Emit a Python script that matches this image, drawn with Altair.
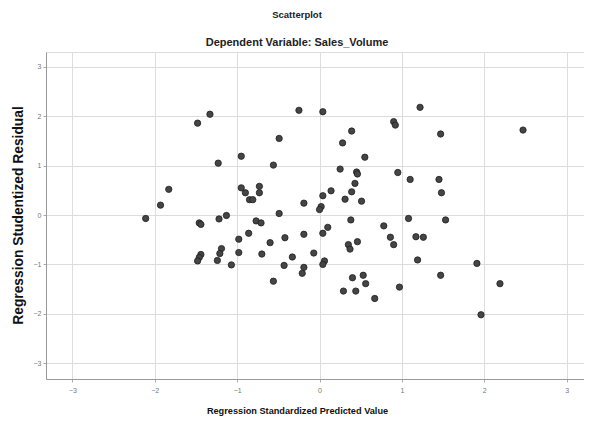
import altair as alt
import pandas as pd

# Regression standardized predicted value (x) and studentized residual (y)
x_vals = [
    -1.33, -1.48, -0.95, -1.23, -1.83, -1.93, -2.11, -0.95, -0.90, -0.73,
    -0.73, -0.85, -0.81, -1.13, -1.22, -1.46, -1.44, -0.77, -0.71, -0.86,
    -0.98, -0.98, -0.70, -1.19, -1.21, -1.24, -1.44, -1.46, -1.48, -1.07,
    -0.25, 0.04, 0.90, 0.92, -0.49, 0.39, 0.28, 0.55, -0.56, 0.25,
    0.45, 0.46, 0.95, 0.43, 0.14, 0.04, 0.39, 0.31, 0.51, -0.19,
    0.02, 0.00, -0.49, 0.38, 0.78, 0.10, 0.04, -0.19, -0.42, -0.60,
    0.86, 0.90, 0.46, 0.35, 0.37, -0.07, -0.33, 0.06, 0.04, -0.43,
    -0.19, -0.21, -0.56, 0.40, 0.53, 0.56, 0.29, 0.44, 0.67, 0.97,
    1.22, 1.47, 2.47, 1.10, 1.45, 1.48, 1.08, 1.53, 1.17, 1.26,
    1.19, 1.91, 1.47, 2.19, 1.96,
]
y_vals = [
    2.04, 1.86, 1.19, 1.05, 0.52, 0.20, -0.07, 0.55, 0.45, 0.58,
    0.45, 0.31, 0.31, -0.01, -0.08, -0.16, -0.19, -0.12, -0.16, -0.37,
    -0.49, -0.76, -0.79, -0.68, -0.78, -0.92, -0.80, -0.86, -0.93, -1.01,
    2.12, 2.09, 1.89, 1.82, 1.55, 1.70, 1.46, 1.17, 1.01, 0.93,
    0.87, 0.83, 0.86, 0.64, 0.49, 0.39, 0.47, 0.32, 0.28, 0.24,
    0.17, 0.11, 0.03, -0.10, -0.22, -0.25, -0.37, -0.39, -0.46, -0.56,
    -0.45, -0.60, -0.54, -0.60, -0.69, -0.77, -0.85, -0.93, -1.00, -1.02,
    -1.06, -1.18, -1.34, -1.27, -1.22, -1.39, -1.54, -1.54, -1.69, -1.46,
    2.18, 1.64, 1.72, 0.72, 0.72, 0.45, -0.07, -0.10, -0.44, -0.45,
    -0.91, -0.98, -1.22, -1.39, -2.02,
]
tick_values = [-3, -2, -1, 0, 1, 2, 3]

df = pd.DataFrame({"pred": x_vals, "resid": y_vals})

FONT = "Liberation Sans, Arial"

chart = (
    alt.Chart(df)
    .mark_circle(size=40, color="#454545", stroke="#1f1f1f", strokeWidth=0.8, opacity=1)
    .encode(
        x=alt.X(
            "pred:Q",
            scale=alt.Scale(domain=[-3.32, 3.21], nice=False, zero=False),
            axis=alt.Axis(
                values=tick_values,
                format="d",
                title="Regression Standardized Predicted Value",
                titleX=251,
                titleY=31,
                titleBaseline="middle",
                titleAlign="center",
                titleFontSize=9.2,
                titleFontWeight="bold",
                titleColor="#111111",
                titleFont=FONT,
                labelFontSize=7,
                labelColor="#777777",
                labelPadding=4,
                tickSize=3,
                tickColor="#aaaaaa",
                domainColor="#999999",
                gridColor="#dcdcdc",
                labelFont=FONT,
            ),
        ),
        y=alt.Y(
            "resid:Q",
            scale=alt.Scale(domain=[-3.32, 3.30], nice=False, zero=False),
            axis=alt.Axis(
                values=tick_values,
                format="d",
                title="Regression Studentized Residual",
                titleX=-28,
                titleY=163,
                titleAngle=-90,
                titleBaseline="middle",
                titleAlign="center",
                titleFontSize=13.8,
                titleFontWeight="bold",
                titleColor="#111111",
                titleFont=FONT,
                labelFontSize=7,
                labelColor="#777777",
                labelPadding=2,
                tickSize=3,
                tickColor="#aaaaaa",
                domainColor="#999999",
                gridColor="#dcdcdc",
                labelFont=FONT,
            ),
        ),
    )
    .properties(
        width=538,
        height=327,
        padding={"left": 38, "top": 44, "right": 0, "bottom": 38},
        autosize=alt.AutoSizeParams(type="none"),
        title=alt.TitleParams(
            text="Scatterplot",
            subtitle="Dependent Variable: Sales_Volume",
            anchor="middle",
            dx=-18,
            offset=4,
            font=FONT,
            fontSize=9.5,
            fontWeight="bold",
            color="#222222",
            subtitleFont=FONT,
            subtitleFontSize=11,
            subtitleFontWeight="bold",
            subtitleColor="#222222",
            subtitlePadding=18,
        ),
    )
    .configure_view(strokeWidth=0)
    .configure(background="white")
)

chart.save("out.html", embed_options={"renderer": "svg", "actions": False})
